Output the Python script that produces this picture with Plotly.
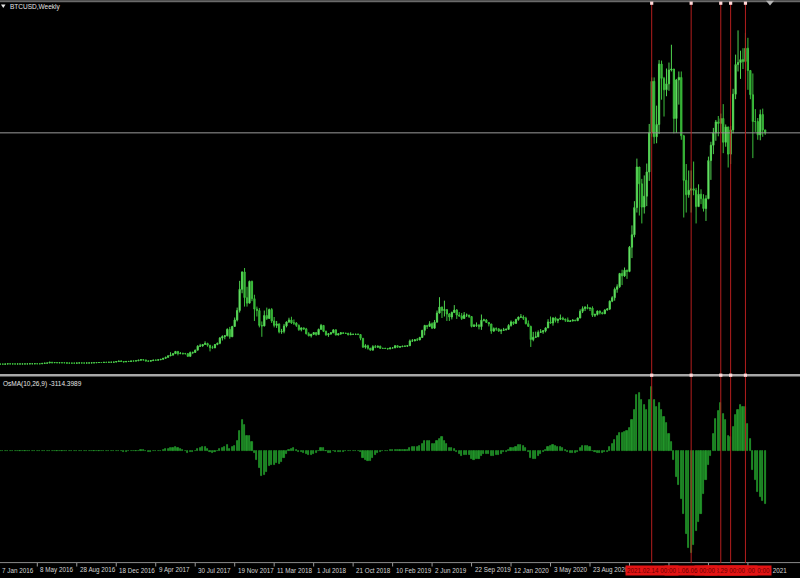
import pandas as pd
import plotly.graph_objects as go

# ---------------- data (weekly BTCUSD) ----------------
close = [
    # 2016 (from 24 Jan)
    378,376,405,437,432,412,412,415,417,418,420,428,449,455,458,456,442,530,578,605,
    762,660,700,650,665,657,655,590,585,580,578,606,623,608,603,612,618,640,655,700,
    705,702,745,735,766,770,790,895,998,
    # 2017
    905,820,920,920,1015,1000,1050,1180,1270,1230,1020,970,1080,1190,1180,1245,1350,1550,
    1750,2050,2200,2500,2950,2500,2550,2500,2500,1950,2750,2750,3200,4000,4050,4350,4550,
    4200,3700,3650,4350,4600,5650,5950,6100,7400,5900,8000,9300,11200,15500,19000,13800,12700,17100,
    # 2018
    13600,11500,11200,8200,8100,10200,9600,11400,9100,8200,8500,6900,7000,8100,8900,9300,8700,
    8700,8200,7350,7700,7500,6500,6100,6400,6750,6350,7400,8200,7000,6300,6500,6700,7300,
    6250,6500,6700,6600,6600,6300,6400,6400,6400,6350,5600,3800,4100,3600,3200,3900,3800,4000,
    # 2019
    3550,3550,3550,3450,3650,3650,4100,3800,3900,4000,4000,4100,5050,5050,5300,5250,5750,
    7200,8200,8000,8550,7650,8850,10700,11900,11200,11400,10500,9900,10800,11300,10300,10100,9600,
    10300,10300,10000,8000,8200,8300,7950,9250,9300,8800,8500,7050,7550,7500,7050,7200,7300,7400,
    # 2020
    8200,8900,8600,9400,9900,9900,9650,8550,8000,5350,5800,5900,6800,6900,7100,7700,8900,
    8700,9700,9200,9450,9650,9450,9300,9000,9080,9250,9150,9700,11050,11600,11850,11650,11700,10250,
    10400,11100,10750,10550,11300,11500,13100,13800,15500,16000,18700,18200,19350,19100,24000,26500,32000,
    # 2021
    40200,36800,32100,34300,39200,47100,57500,46300,48800,61000,58100,55800,57000,59800,60000,50000,57800,
    58300,46500,37500,34600,35500,35800,35500,32200,34700,33800,31800,33800,41500,44600,47100,49300,49000,50000,
    45200,48300,42800,47700,54900,60900,61300,61900,61500,64200,59700,54800,49400,49400,46700,50800,47700,
    # 2022
    47100,
]

high = [
    410,385,410,445,445,440,420,420,420,425,425,430,452,468,465,462,458,540,585,610,
    780,770,710,705,680,680,665,655,600,590,585,610,628,630,612,615,622,642,660,710,
    745,720,755,755,770,775,795,900,1000,
    1150,920,930,930,1020,1065,1060,1190,1290,1330,1255,1070,1100,1210,1215,1255,1360,1580,
    1850,2100,2780,2550,2980,3000,2800,2700,2650,2600,2900,2850,3300,4200,4480,4400,4980,
    4700,4250,4100,4400,4700,5850,6200,6200,7600,7900,8100,9800,11800,17200,19100,19800,16000,17250,
    17250,14400,12000,11700,9000,11200,11800,11600,11700,9900,9100,8600,7500,8500,9000,9750,9950,
    9400,8850,8400,7800,7770,7700,6830,6500,6800,6800,7550,8500,8250,7150,6600,6850,7400,
    7400,6600,6800,6800,6700,6700,6800,6500,6500,6600,6400,5600,4400,4300,3600,4200,4250,4100,
    4100,3700,3680,3600,3700,3720,4200,4200,3950,4050,4080,4150,5350,5450,5400,5650,5900,
    7300,8300,8200,9050,8800,9300,11200,13900,12000,13200,11100,10700,11000,12300,11500,10900,10700,
    10900,10600,10300,10100,8500,8800,8400,10400,9550,9500,8900,8500,7800,7800,7650,7500,7700,7600,
    8450,9200,8950,9550,9950,10500,10250,9950,9200,8150,6900,6950,7200,7450,7250,7800,9450,
    10000,9850,9950,9550,10400,9950,9600,9800,9300,9450,9350,9800,11450,12050,12100,12450,11800,12050,
    10600,11200,11200,10950,11450,11700,13250,14100,15850,16500,18800,19450,19900,19450,24250,28400,33300,
    41900,40100,37800,38500,40900,48900,58300,58300,52600,61800,61700,58400,60100,61300,64900,57600,58000,
    59500,59500,46700,40800,39500,39500,41300,36000,36700,35700,34700,34500,42300,45300,48100,49700,50500,51000,
    52900,48800,48300,48500,56000,62900,67800,63700,64200,67300,66300,59300,59100,51900,50100,51800,52000,
    47600,
]

low = [
    370,365,365,400,418,405,405,408,408,412,415,418,425,445,445,450,438,440,525,570,
    605,560,630,640,640,655,645,480,580,565,570,570,600,600,595,598,608,615,630,650,
    680,690,698,715,728,748,760,790,870,
    880,750,810,880,910,940,990,1040,1150,1150,950,890,950,1080,1150,1170,1240,1350,
    1550,1700,2000,2100,2450,2150,2400,2300,2350,1850,1900,2400,2650,3250,3850,3900,4300,
    3900,2950,3550,3700,4200,4400,5150,5400,6000,5500,5900,7900,9000,10800,14700,12000,12000,12800,
    13100,9100,10000,7800,5900,8000,9300,9900,8700,7800,7700,6600,6500,6600,7800,8700,8500,
    8300,7900,7100,7000,7300,6400,6000,5750,6250,6100,6250,7350,6850,6100,5900,6300,6700,
    6200,6200,6300,6500,6500,6200,6300,6350,6250,6350,5200,3700,3500,3300,3150,3200,3600,3700,
    3550,3500,3500,3350,3400,3600,3650,3700,3750,3850,3950,3950,4100,4950,5050,5100,5600,
    5700,6200,7500,7900,7500,7500,8900,10600,9700,10000,9100,9100,9400,10700,9500,10000,9300,
    9600,9900,9700,7800,7900,7900,7400,7300,9000,8700,8000,6500,6900,7100,6900,6450,7100,7200,
    7350,7950,8300,8600,9150,9700,9300,8400,8000,3850,5000,5650,5850,6700,6500,6800,7650,
    8550,8150,8800,8650,9300,9250,8900,8900,8950,9050,9100,9150,9650,10700,11100,11450,11100,9900,
    9900,10200,10400,10500,10500,11200,11300,12900,13200,14800,15800,16350,18000,17600,18950,21800,26000,
    31000,30400,28800,30800,32300,37400,46300,44900,45000,46900,53800,50400,54500,55600,59500,47000,47100,
    52800,45700,30000,31000,34000,31000,34500,28800,32800,32700,31200,29300,33700,37600,42800,45500,46400,47100,
    43000,44300,40100,40800,47000,53900,59500,58000,60000,61200,55800,53900,42000,47300,45700,45600,46300,
    46700,
]

osma = [
    # 2016
    -2,-3,1,4,3,1,0,0,-1,-1,0,1,2,3,2,1,-1,6,12,15,28,12,8,-2,-5,-7,-8,-12,-11,-10,
    -8,-4,-1,0,-1,0,1,3,5,9,9,7,8,6,7,6,7,15,25,
    # 2017
    -15,-40,-35,-25,-5,0,5,20,35,35,0,-30,-35,-15,-5,5,20,50,90,130,160,190,230,150,110,60,
    20,-90,-60,-40,20,130,180,210,220,130,-40,-130,-80,-20,100,200,220,330,140,220,320,560,
    1200,1800,1500,900,900,
    # 2018
    500,-100,-500,-1000,-1450,-1400,-1250,-900,-800,-800,-700,-750,-650,-400,-150,50,120,
    150,80,-60,-80,-100,-200,-260,-240,-160,-130,10,180,150,-10,-90,-90,-10,
    -60,-70,-50,-30,-15,-25,-15,-8,0,5,-80,-420,-520,-580,-590,-400,-260,-130,
    # 2019
    -40,-20,0,10,30,40,80,70,60,60,50,50,170,220,250,240,270,420,560,570,580,
    420,420,560,700,820,600,420,200,200,130,-50,-150,-280,-250,-230,-220,-450,-520,
    -480,-450,-280,-180,-150,-160,-310,-310,-250,-220,-150,-80,-30,
    # 2020
    60,150,180,260,330,370,310,150,-30,-400,-480,-450,-280,-150,-50,60,250,
    320,380,300,250,220,150,60,-40,-90,-100,-110,-50,150,280,320,290,210,-20,
    -80,-100,-100,-110,-80,-30,240,400,650,900,1060,1060,1120,1180,1350,1820,2400,
    # 2021
    3300,3400,3000,2700,2400,3000,3760,3000,2600,2800,2400,2000,1650,1000,500,-500,-1500,
    -2000,-2800,-3700,-4900,-5700,-6000,-5500,-4700,-4200,-3700,-2500,-1700,-800,-300,1000,1900,2350,2800,
    2200,1800,900,800,1400,2100,2400,2700,2600,2600,1600,700,-1100,-1700,-2400,-2700,-2950,
    # 2022
    -3114.3989,
]

first_open = 385
tick_labels = ["7 Jan 2016", "8 May 2016", "28 Aug 2016", "18 Dec 2016", "9 Apr 2017",
               "30 Jul 2017", "19 Nov 2017", "11 Mar 2018", "1 Jul 2018", "21 Oct 2018",
               "10 Feb 2019", "2 Jun 2019", "22 Sep 2019", "12 Jan 2020", "3 May 2020",
               "23 Aug 2020", "13 Dec 2020", "4 Apr 2021", "25 Jul 2021", "14 Nov 2021"]
tick_dates = ["2016-01-07", "2016-05-08", "2016-08-28", "2016-12-18", "2017-04-09",
              "2017-07-30", "2017-11-19", "2018-03-11", "2018-07-01", "2018-10-21",
              "2019-02-10", "2019-06-02", "2019-09-22", "2020-01-12", "2020-05-03",
              "2020-08-23", "2020-12-13", "2021-04-04", "2021-07-25", "2021-11-14"]
vline_dates = ["2021-02-14", "2021-06-06", "2021-08-29", "2021-09-26", "2021-11-07"]

n = len(close)
assert len(high) == n and len(low) == n and len(osma) == n, (n, len(high), len(low), len(osma))
weeks = pd.date_range("2016-01-24", periods=n, freq="7D")
opens = [first_open] + close[:-1]
highs = [max(h, o, c) for h, o, c in zip(high, opens, close)]
lows = [min(l, o, c) for l, o, c in zip(low, opens, close)]

# ---------------- layout geometry ----------------
W, H = 800, 578
def py(row):
    return 1 - row / H

px_per_day = (590 - 37.3) / 1568.0
x_left = pd.Timestamp("2020-08-23") - pd.Timedelta(days=590 / px_per_day)
x_right = x_left + pd.Timedelta(days=W / px_per_day)

fig = go.Figure()
fig.add_trace(go.Candlestick(
    x=weeks, open=opens, high=highs, low=lows, close=close,
    xaxis="x", yaxis="y",
    increasing=dict(line=dict(color="#4fd24f", width=1), fillcolor="#8af58a"),
    decreasing=dict(line=dict(color="#3cbf3c", width=1), fillcolor="#2ea82e"),
    whiskerwidth=0, hoverinfo="skip",
))
fig.add_trace(go.Bar(
    x=weeks, y=osma, xaxis="x", yaxis="y2",
    marker=dict(color="#22962a", line=dict(color="#22962a", width=0.8)),
    width=3.2 * 86400000, hoverinfo="skip",
))

shapes = []
shapes.append(dict(type="line", xref="paper", yref="paper", x0=0, x1=1, y0=py(1.2), y1=py(1.2),
                   line=dict(color="#6a6a6a", width=2)))
shapes.append(dict(type="line", xref="paper", yref="y", x0=0, x1=1, y0=close[-1], y1=close[-1],
                   line=dict(color="#9a9a9a", width=1)))
shapes.append(dict(type="line", xref="paper", yref="paper", x0=0, x1=1, y0=py(375.2), y1=py(375.2),
                   line=dict(color="#a8a8a8", width=2.4)))
shapes.append(dict(type="line", xref="paper", yref="paper", x0=0, x1=1, y0=py(562.6), y1=py(562.6),
                   line=dict(color="#8c8c8c", width=1)))
for d in tick_dates:
    if pd.Timestamp(d) > x_left:
        shapes.append(dict(type="line", xref="x", yref="paper", x0=d, x1=d, y0=py(563), y1=py(566.5),
                           line=dict(color="#9a9a9a", width=1)))
for d in vline_dates:
    shapes.append(dict(type="line", xref="x", yref="paper", x0=d, x1=d, y0=py(563), y1=py(2),
                       line=dict(color="#b41e1e", width=1)))
    for row in (3.2, 375.2):
        shapes.append(dict(type="rect", xref="x", yref="paper", xsizemode="pixel", xanchor=d,
                           x0=-1.6, x1=1.6, y0=py(row + 1.6), y1=py(row - 1.6),
                           fillcolor="#ffd8d8", line=dict(width=0)))
shapes.append(dict(type="path", xref="paper", yref="paper",
                   path=f"M {766/W},{py(0.8)} L {774/W},{py(0.8)} L {770/W},{py(5.5)} Z",
                   fillcolor="#b4b4b4", line=dict(width=0)))
shapes.append(dict(type="path", xref="paper", yref="paper",
                   path=f"M {1/W},{py(4.5)} L {5.5/W},{py(4.5)} L {3.25/W},{py(8)} Z",
                   fillcolor="#e8e8e8", line=dict(width=0)))

annotations = []
annotations.append(dict(text="BTCUSD,Weekly", xref="paper", yref="paper", x=7.5 / W, y=py(6.5),
                        xanchor="left", yanchor="middle", showarrow=False,
                        font=dict(family="Liberation Sans", size=6.5, color="#e6e6e6")))
annotations.append(dict(text=f"OsMA(10,26,9) {osma[-1]:.4f}", xref="paper", yref="paper",
                        x=1 / W, y=py(383.5), xanchor="left", yanchor="middle", showarrow=False,
                        font=dict(family="Liberation Sans", size=6.5, color="#e6e6e6")))
for lab, d in zip(tick_labels, tick_dates):
    if pd.Timestamp(d) > x_left:
        annotations.append(dict(text=lab, xref="x", yref="paper", x=d, y=py(570), xshift=1,
                                xanchor="left", yanchor="middle", showarrow=False,
                                font=dict(family="Liberation Sans", size=6.3, color="#d4d4d4")))
    else:
        annotations.append(dict(text=lab, xref="paper", yref="paper", x=0, y=py(570),
                                xanchor="left", yanchor="middle", showarrow=False,
                                font=dict(family="Liberation Sans", size=6.3, color="#d4d4d4")))
for d in reversed(vline_dates):
    ts = pd.Timestamp(d)
    annotations.append(dict(text=f"{ts:%Y.%m.%d} 00:00", xref="x", yref="paper", x=d, y=py(570),
                            xanchor="center", yanchor="middle", showarrow=False,
                            bgcolor="#e31414", borderpad=1,
                            font=dict(family="Liberation Sans", size=6.3, color="#6a0000")))

fig.update_layout(
    width=W, height=H, margin=dict(l=0, r=0, t=0, b=0),
    paper_bgcolor="black", plot_bgcolor="black", showlegend=False,
    bargap=0,
    xaxis=dict(type="date", range=[x_left, x_right], domain=[0, 1], anchor="y2",
               showgrid=False, zeroline=False, showticklabels=False, ticks="", showline=False,
               rangeslider=dict(visible=False)),
    yaxis=dict(domain=[py(373), py(4)], range=[-1414, 73131], visible=False, showgrid=False,
               zeroline=False),
    yaxis2=dict(domain=[py(562), py(377)], range=[-6522, 4348], visible=False, showgrid=False,
                zeroline=False),
    shapes=shapes, annotations=annotations,
)

fig.write_html("out.html", config={"displayModeBar": False},
               post_script="document.body.style.margin='0';document.body.style.background='black';"
                           "document.documentElement.style.overflow='hidden';")
